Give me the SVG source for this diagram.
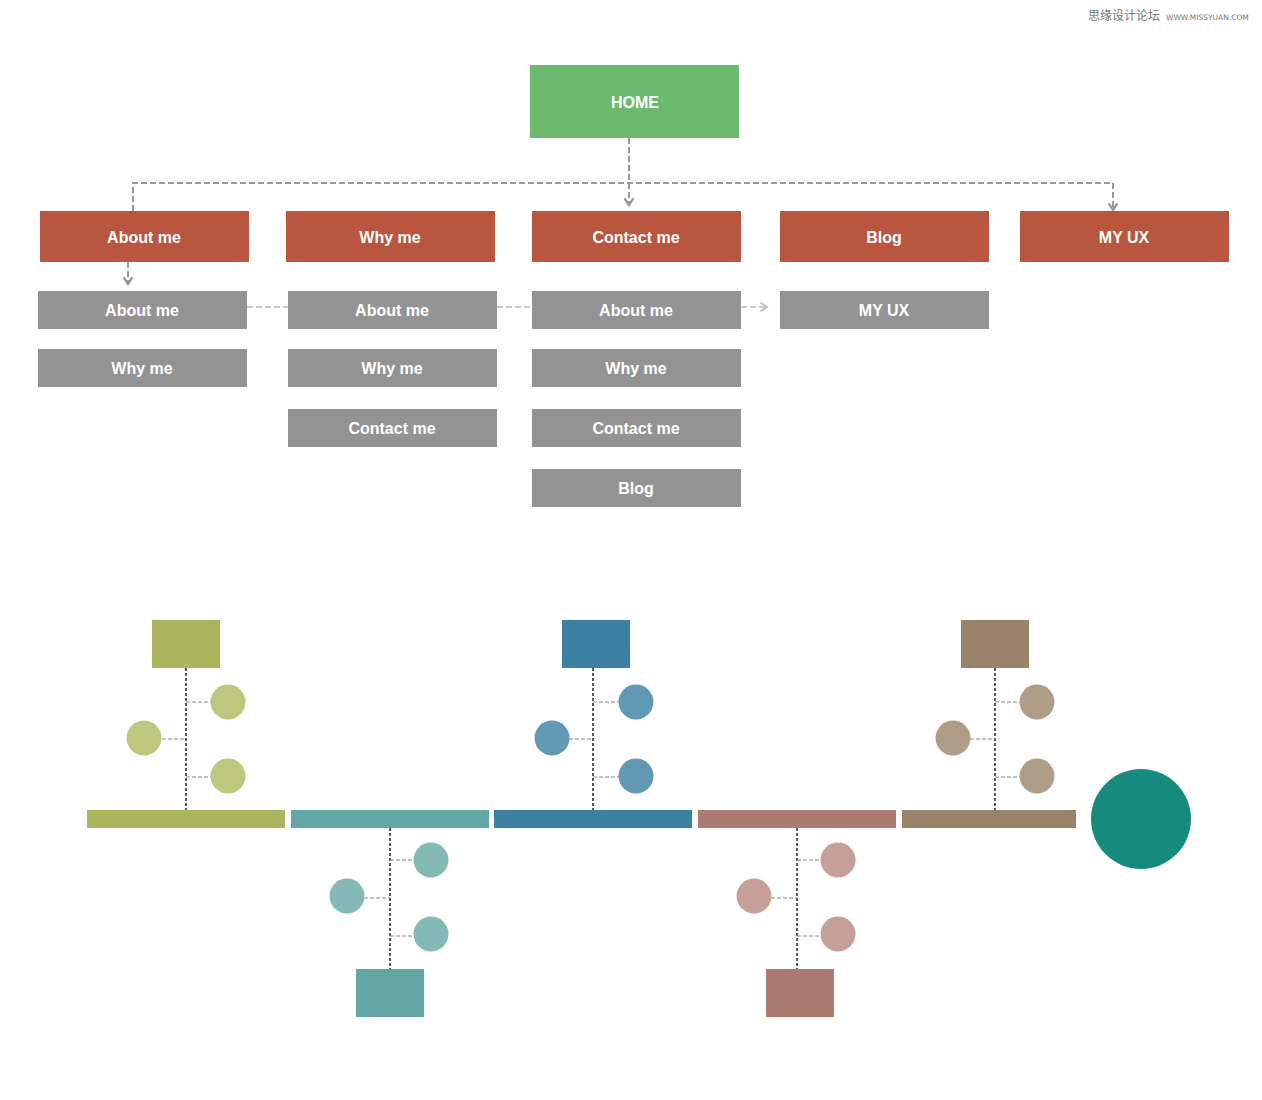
<svg xmlns="http://www.w3.org/2000/svg" width="1262" height="1100" viewBox="0 0 1262 1100">
<style>
.lbl{font-family:"Liberation Sans",Arial,sans-serif;font-weight:bold;font-size:16px;fill:#fff;text-anchor:middle;dominant-baseline:central}
.red{fill:#b9563f}
.gray{fill:#939393}
.conn{fill:none;stroke:#999;stroke-width:2;stroke-dasharray:6 3}
.conn2{fill:none;stroke:#c8c8c8;stroke-width:2;stroke-dasharray:6 3}
.spine{stroke:#000;stroke-width:1.3;stroke-dasharray:3 2;fill:none}
.twig{stroke:#888;stroke-width:1.2;stroke-dasharray:4 2;fill:none}
</style>
<defs>
<marker id="ah" viewBox="0 0 10 10" refX="8" refY="5" markerWidth="11" markerHeight="11" orient="auto" markerUnits="userSpaceOnUse">
<path d="M2,1 L8,5 L2,9" fill="none" stroke="#999" stroke-width="2.2"/>
</marker>
<marker id="ah2" viewBox="0 0 10 10" refX="8" refY="5" markerWidth="11" markerHeight="11" orient="auto" markerUnits="userSpaceOnUse">
<path d="M2,1 L8,5 L2,9" fill="none" stroke="#c8c8c8" stroke-width="2"/>
</marker>
</defs>
<rect width="1262" height="1100" fill="#fff"/>
<text x="1088" y="20" font-family="'Noto Sans CJK SC',sans-serif" font-size="12" fill="#777">思缘设计论坛</text>
<text x="1166" y="20" font-family="'DejaVu Sans',sans-serif" font-size="7.5" fill="#777">WWW.MISSYUAN.COM</text>

<g id="connectors">
<path class="conn" d="M629,138 V183"/>
<path class="conn" d="M133,211 V183 H1113 V210" marker-end="url(#ah)"/>
<path class="conn" d="M629,183 V205" marker-end="url(#ah)"/>
<path class="conn" d="M128,262 V284" marker-end="url(#ah)"/>
<path class="conn2" d="M247,307 H288"/>
<path class="conn2" d="M497,307 H532"/>
<path class="conn2" d="M741,307 H767" marker-end="url(#ah2)"/>
</g>

<g id="home"><rect x="530" y="65" width="209" height="73" fill="#6bba6e"/><text class="lbl" x="635" y="102">HOME</text></g>

<g id="r-about"><rect class="red" x="40" y="211" width="209" height="51"/><text class="lbl" x="144" y="237">About me</text></g>
<g id="r-why"><rect class="red" x="286" y="211" width="209" height="51"/><text class="lbl" x="390" y="237">Why me</text></g>
<g id="r-contact"><rect class="red" x="532" y="211" width="209" height="51"/><text class="lbl" x="636" y="237">Contact me</text></g>
<g id="r-blog"><rect class="red" x="780" y="211" width="209" height="51"/><text class="lbl" x="884" y="237">Blog</text></g>
<g id="r-myux"><rect class="red" x="1020" y="211" width="209" height="51"/><text class="lbl" x="1124" y="237">MY UX</text></g>

<g id="g1-about"><rect class="gray" x="38" y="291" width="209" height="38"/><text class="lbl" x="142" y="310">About me</text></g>
<g id="g1-why"><rect class="gray" x="38" y="349" width="209" height="38"/><text class="lbl" x="142" y="368">Why me</text></g>
<g id="g2-about"><rect class="gray" x="288" y="291" width="209" height="38"/><text class="lbl" x="392" y="310">About me</text></g>
<g id="g2-why"><rect class="gray" x="288" y="349" width="209" height="38"/><text class="lbl" x="392" y="368">Why me</text></g>
<g id="g2-contact"><rect class="gray" x="288" y="409" width="209" height="38"/><text class="lbl" x="392" y="428">Contact me</text></g>
<g id="g3-about"><rect class="gray" x="532" y="291" width="209" height="38"/><text class="lbl" x="636" y="310">About me</text></g>
<g id="g3-why"><rect class="gray" x="532" y="349" width="209" height="38"/><text class="lbl" x="636" y="368">Why me</text></g>
<g id="g3-contact"><rect class="gray" x="532" y="409" width="209" height="38"/><text class="lbl" x="636" y="428">Contact me</text></g>
<g id="g3-blog"><rect class="gray" x="532" y="469" width="209" height="38"/><text class="lbl" x="636" y="488">Blog</text></g>
<g id="g4-myux"><rect class="gray" x="780" y="291" width="209" height="38"/><text class="lbl" x="884" y="310">MY UX</text></g>

<g id="fishbone-lines">
<path class="spine" d="M186,668 V810 M593,668 V810 M995,668 V810 M390,828 V969 M797,828 V969"/>
<path class="twig" d="M186,702 H211 M162,739 H186 M186,777 H211"/>
<path class="twig" d="M593,702 H619 M569,739 H593 M593,777 H619"/>
<path class="twig" d="M995,702 H1020 M970,739 H995 M995,777 H1020"/>
<path class="twig" d="M390,860 H414 M364,898 H390 M390,936 H414"/>
<path class="twig" d="M797,860 H821 M771,898 H797 M797,936 H821"/>
</g>

<g id="bar-green"><rect x="87" y="810" width="198" height="18" fill="#abb55c"/></g>
<g id="bar-teal"><rect x="291" y="810" width="198" height="18" fill="#62a7a6"/></g>
<g id="bar-blue"><rect x="494" y="810" width="198" height="18" fill="#3b80a0"/></g>
<g id="bar-rose"><rect x="698" y="810" width="198" height="18" fill="#ab7a70"/></g>
<g id="bar-brown"><rect x="902" y="810" width="174" height="18" fill="#9b836a"/></g>
<g id="head"><circle cx="1141" cy="819" r="50" fill="#178a7e"/></g>

<g id="green-branch">
<rect x="152" y="620" width="68" height="48" fill="#abb55c"/>
<circle cx="228" cy="702" r="17.5" fill="#bdc77e"/>
<circle cx="144" cy="738" r="17.5" fill="#bdc77e"/>
<circle cx="228" cy="776" r="17.5" fill="#bdc77e"/>
</g>
<g id="blue-branch">
<rect x="562" y="620" width="68" height="48" fill="#3b80a0"/>
<circle cx="636" cy="702" r="17.5" fill="#6199b5"/>
<circle cx="552" cy="738" r="17.5" fill="#6199b5"/>
<circle cx="636" cy="776" r="17.5" fill="#6199b5"/>
</g>
<g id="brown-branch">
<rect x="961" y="620" width="68" height="48" fill="#9b836a"/>
<circle cx="1037" cy="702" r="17.5" fill="#b09d87"/>
<circle cx="953" cy="738" r="17.5" fill="#b09d87"/>
<circle cx="1037" cy="776" r="17.5" fill="#b09d87"/>
</g>
<g id="teal-branch">
<rect x="356" y="969" width="68" height="48" fill="#62a7a6"/>
<circle cx="431" cy="860" r="17.5" fill="#85b9b8"/>
<circle cx="347" cy="896" r="17.5" fill="#85b9b8"/>
<circle cx="431" cy="934" r="17.5" fill="#85b9b8"/>
</g>
<g id="rose-branch">
<rect x="766" y="969" width="68" height="48" fill="#ab7a70"/>
<circle cx="838" cy="860" r="17.5" fill="#c59f98"/>
<circle cx="754" cy="896" r="17.5" fill="#c59f98"/>
<circle cx="838" cy="934" r="17.5" fill="#c59f98"/>
</g>
</svg>
